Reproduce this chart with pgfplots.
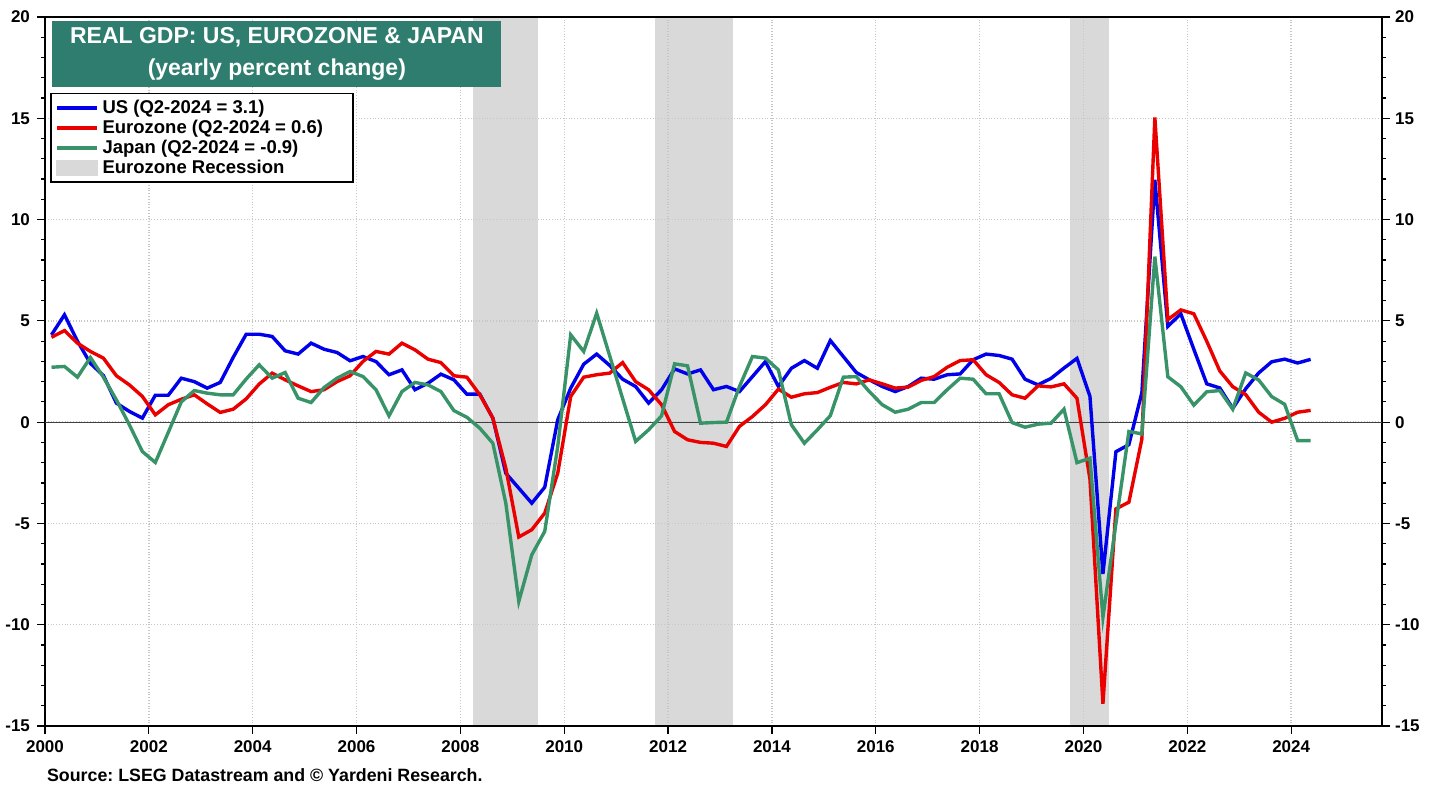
\documentclass[border=0pt]{standalone}
\usepackage{fontspec}
\setmainfont{Liberation Sans}
\usepackage{pgfplots}
\usepackage{pgfplotstable}
\pgfplotsset{compat=1.18}

\definecolor{usblue}{RGB}{0,0,235}
\definecolor{ezred}{RGB}{235,0,0}
\definecolor{jpgreen}{RGB}{56,148,104}
\definecolor{titlegreen}{RGB}{46,125,110}
\definecolor{band}{RGB}{217,217,217}

% quarterly yoy % change, plotted mid-quarter
\pgfplotstableread{
x us ez jp
2000.125 4.31 4.19 2.71
2000.375 5.30 4.52 2.75
2000.625 4.00 3.90 2.22
2000.875 2.90 3.49 3.19
2001.125 2.30 3.16 2.22
2001.375 0.94 2.29 1.10
2001.625 0.53 1.84 -0.13
2001.875 0.20 1.27 -1.45
2002.125 1.33 0.36 -1.99
2002.375 1.33 0.86 -0.50
2002.625 2.17 1.13 1.00
2002.875 2.00 1.35 1.56
2003.125 1.68 0.90 1.43
2003.375 1.96 0.48 1.35
2003.625 3.20 0.64 1.35
2003.875 4.34 1.15 2.13
2004.125 4.34 1.88 2.83
2004.375 4.23 2.42 2.17
2004.625 3.52 2.09 2.45
2004.875 3.36 1.79 1.18
2005.125 3.90 1.51 0.97
2005.375 3.60 1.60 1.71
2005.625 3.44 2.00 2.17
2005.875 3.03 2.29 2.50
2006.125 3.24 3.00 2.25
2006.375 2.99 3.49 1.60
2006.625 2.34 3.36 0.31
2006.875 2.58 3.90 1.51
2007.125 1.60 3.57 1.96
2007.375 1.92 3.11 1.84
2007.625 2.37 2.94 1.51
2007.875 2.09 2.29 0.57
2008.125 1.38 2.22 0.24
2008.375 1.38 1.35 -0.30
2008.625 0.20 0.20 -1.04
2008.875 -2.52 -2.27 -4.00
2009.125 -3.26 -5.67 -8.85
2009.375 -4.00 -5.31 -6.55
2009.625 -3.21 -4.49 -5.39
2009.875 0.12 -2.52 -1.20
2010.125 1.68 1.27 4.31
2010.375 2.86 2.22 3.49
2010.625 3.36 2.34 5.38
2010.875 2.80 2.42 3.28
2011.125 2.12 2.94 1.16
2011.375 1.76 2.00 -0.95
2011.625 0.94 1.60 -0.38
2011.875 1.60 0.86 0.31
2012.125 2.63 -0.46 2.88
2012.375 2.38 -0.87 2.78
2012.625 2.58 -1.00 -0.05
2012.875 1.60 -1.04 -0.02
2013.125 1.76 -1.20 0.00
2013.375 1.51 -0.21 1.76
2013.625 2.25 0.28 3.24
2013.875 2.99 0.86 3.16
2014.125 1.76 1.63 2.58
2014.375 2.66 1.23 -0.13
2014.625 3.04 1.40 -1.04
2014.875 2.66 1.46 -0.38
2015.125 4.03 1.72 0.32
2015.375 3.24 1.96 2.22
2015.625 2.45 1.89 2.25
2015.875 2.09 2.09 1.51
2016.125 1.76 1.89 0.86
2016.375 1.51 1.68 0.49
2016.625 1.76 1.73 0.64
2016.875 2.17 2.06 0.97
2017.125 2.12 2.25 0.97
2017.375 2.34 2.71 1.60
2017.625 2.38 3.04 2.17
2017.875 3.08 3.08 2.12
2018.125 3.36 2.34 1.40
2018.375 3.29 1.96 1.40
2018.625 3.11 1.35 -0.02
2018.875 2.12 1.18 -0.25
2019.125 1.84 1.79 -0.10
2019.375 2.16 1.74 -0.05
2019.625 2.67 1.89 0.64
2019.875 3.15 1.18 -2.00
2020.125 1.27 -2.82 -1.78
2020.375 -7.49 -13.90 -9.63
2020.625 -1.46 -4.28 -5.00
2020.875 -1.11 -3.95 -0.46
2021.125 1.46 -0.84 -0.58
2021.375 11.96 15.04 8.17
2021.625 4.73 5.06 2.24
2021.875 5.35 5.54 1.75
2022.125 3.60 5.35 0.84
2022.375 1.89 3.99 1.50
2022.625 1.69 2.53 1.56
2022.875 0.68 1.75 0.64
2023.125 1.65 1.36 2.43
2023.375 2.43 0.49 2.08
2023.625 2.98 0.00 1.26
2023.875 3.11 0.19 0.88
2024.125 2.92 0.49 -0.91
2024.375 3.10 0.58 -0.91
}\gdp

\pgfplotsset{
  gdpaxis/.style={
    at={(22.5pt,31.5pt)}, anchor=south west,
    width=668.5pt, height=354.5pt, scale only axis,
    xmin=2000, xmax=2025.75, ymin=-15, ymax=20,
    ytick={-15,-10,...,20},
    tick label style={font=\bfseries\fontsize{8.5}{10}\selectfont},
    /pgf/number format/assume math mode=true,
  },
}

\begin{document}
\frenchspacing
\begin{tikzpicture}
\begin{axis}[
  gdpaxis,
  set layers,
  axis line style={line width=1pt},
  xtick={2000,2002,...,2024},
  xticklabel style={/pgf/number format/1000 sep={}},
  xtick pos=bottom, ytick pos=both,
  yticklabel pos=left,
  minor x tick num=7, minor y tick num=4,
  tick align=outside,
  major tick length=4pt, minor tick length=2pt,
  tick style={black, line width=0.6pt},
  grid=major,
  major grid style={densely dotted, gray!45, line width=0.7pt},
  legend cell align=left,
  legend style={at={(axis description cs:0.004,0.893)}, anchor=north west,
    draw=black, line width=0.8pt, fill=white, inner xsep=2pt, inner ysep=1pt,
    font=\bfseries\fontsize{9.25}{10.5}\selectfont, row sep=-2.2pt},
  legend image code/.code={\draw[#1, line width=1.7pt] (0pt,0pt) -- (20pt,0pt);},
]
\addplot[fill=band, draw=none, forget plot, on layer=axis background]
  coordinates {(2008.25,-15) (2008.25,20) (2009.5,20) (2009.5,-15)} -- cycle;
\addplot[fill=band, draw=none, forget plot, on layer=axis background]
  coordinates {(2011.75,-15) (2011.75,20) (2013.25,20) (2013.25,-15)} -- cycle;
\addplot[fill=band, draw=none, forget plot, on layer=axis background]
  coordinates {(2019.75,-15) (2019.75,20) (2020.5,20) (2020.5,-15)} -- cycle;
\addplot[black!75, line width=0.6pt, forget plot]
  coordinates {(2000,0) (2025.75,0)};

\addplot[usblue, line width=1.7pt] table[x=x, y=us] {\gdp};
\addlegendentry{US (Q2-2024 = 3.1)}
\addplot[ezred, line width=1.7pt] table[x=x, y=ez] {\gdp};
\addlegendentry{Eurozone (Q2-2024 = 0.6)\rule{11pt}{0pt}}
\addplot[jpgreen, line width=1.7pt] table[x=x, y=jp] {\gdp};
\addlegendentry{Japan (Q2-2024 = -0.9)}
\addlegendimage{legend image code/.code={\fill[band] (0pt,-3.5pt) rectangle (20pt,3.5pt);}}
\addlegendentry{Eurozone Recession}

\node[fill=titlegreen, text=white, anchor=north west, inner sep=0pt,
  minimum width=224.5pt, minimum height=33pt, align=center,
  font=\bfseries\fontsize{11.5}{16}\selectfont]
  at (axis description cs:0.0052,0.9944)
  {REAL GDP: US, EUROZONE \& JAPAN\\(yearly percent change)};
\end{axis}

% right-hand tick labels
\begin{axis}[
  gdpaxis,
  hide x axis,
  axis y line*=right,
  y axis line style={draw=none},
  ytick style={draw=none},
  yticklabel style={xshift=3pt},
]
\addplot[draw=none] coordinates {(2000,0) (2025.75,0)};
\end{axis}

\node[anchor=west, font=\bfseries\fontsize{8.9}{10}\selectfont] at (20pt,7pt)
  {Source: LSEG Datastream and © Yardeni Research.};
\pgfresetboundingbox
\useasboundingbox (0,0) rectangle (719pt,394.5pt);
\end{tikzpicture}
\end{document}
